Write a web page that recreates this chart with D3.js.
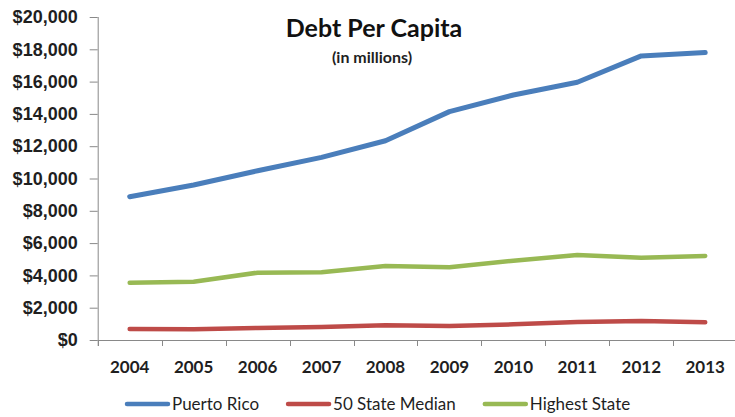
<!DOCTYPE html>
<html>
<head>
<meta charset="utf-8">
<script src="https://cdn.jsdelivr.net/npm/d3@7"></script>
<style>
  body { margin: 0; background: #fff; }
  svg { display: block; font-family: Lato, "Open Sans", sans-serif; }
</style>
</head>
<body>
<svg id="chart" width="735" height="417"></svg>
<script>
var years = ["2004", "2005", "2006", "2007", "2008", "2009", "2010", "2011", "2012", "2013"];
var puertoRico = [8875, 9600, 10480, 11310, 12340, 14140, 15170, 15960, 17590, 17800];
var stateMedian = [680, 660, 740, 800, 910, 870, 970, 1110, 1180, 1100];
var highestState = [3550, 3610, 4170, 4190, 4580, 4500, 4910, 5260, 5100, 5200];
var yTicks = [0, 2000, 4000, 6000, 8000, 10000, 12000, 14000, 16000, 18000, 20000];
var seriesNames = ["Puerto Rico", "50 State Median", "Highest State"];

var colors = ["#4a7ebb", "#be4b48", "#98b954"]
  , widths = [5, 4.5, 4.5]
  , plotLeft = 97.7
  , bandW = 63.95
  , plotTop = 17
  , plotBottom = 340;

var svg = d3.select("#chart");

var x = d3.scaleBand()
    .domain(years)
    .range([plotLeft, plotLeft + bandW * years.length])
    .padding(0);

var y = d3.scaleLinear()
    .domain([0, 20000])
    .range([plotBottom, plotTop]);

// y axis
var yAxis = svg.append("g")
    .attr("transform", "translate(" + plotLeft + ",0)")
    .call(d3.axisLeft(y)
      .tickValues(yTicks)
      .tickSize(8)
      .tickPadding(12)
      .tickFormat(function(d) { return "$" + d3.format(",")(d); }));

yAxis.select(".domain").attr("stroke", "#898989").attr("d", "M0.5," + plotTop + "V" + (plotBottom + 6));
yAxis.selectAll(".tick line").attr("stroke", "#898989");
yAxis.selectAll(".tick text")
    .attr("fill", "#1f1f1f")
    .style("font-size", "18px")
    .style("font-weight", "bold");

// x axis: line, boundary ticks, centred labels
var xg = svg.append("g");
xg.append("line")
    .attr("x1", plotLeft).attr("x2", 735)
    .attr("y1", plotBottom + 0.5).attr("y2", plotBottom + 0.5)
    .attr("stroke", "#898989");

xg.selectAll(".xtick")
    .data(years)
  .enter().append("line")
    .attr("class", "xtick")
    .attr("x1", function(d) { return Math.round(x(d)) + 0.5; })
    .attr("x2", function(d) { return Math.round(x(d)) + 0.5; })
    .attr("y1", plotBottom)
    .attr("y2", plotBottom + 6)
    .attr("stroke", "#898989");

xg.selectAll(".xlabel")
    .data(years)
  .enter().append("text")
    .attr("class", "xlabel")
    .attr("x", function(d) { return x(d) + x.bandwidth() / 2; })
    .attr("y", 373)
    .attr("text-anchor", "middle")
    .attr("fill", "#1f1f1f")
    .style("font-size", "17px")
    .style("font-weight", "bold")
    .text(function(d) { return d; });

// lines
var series = [puertoRico, stateMedian, highestState];

var line = d3.line()
    .x(function(d, i) { return x(years[i]) + x.bandwidth() / 2; })
    .y(function(d) { return y(d); });

svg.selectAll(".series")
    .data(series)
  .enter().append("path")
    .attr("class", "series")
    .attr("d", line)
    .attr("fill", "none")
    .attr("stroke", function(d, i) { return colors[i]; })
    .attr("stroke-width", function(d, i) { return widths[i]; })
    .attr("stroke-linecap", "round")
    .attr("stroke-linejoin", "round");

// title
svg.append("text")
    .attr("x", 374)
    .attr("y", 37)
    .attr("text-anchor", "middle")
    .attr("fill", "#111")
    .style("font-size", "25px")
    .style("font-weight", "bold")
    .text("Debt Per Capita");

svg.append("text")
    .attr("x", 372)
    .attr("y", 63)
    .attr("text-anchor", "middle")
    .attr("fill", "#1f1f1f")
    .style("font-size", "16px")
    .style("font-weight", "bold")
    .text("(in millions)");

// legend
var lx = 127;
seriesNames.forEach(function(name, i) {
  var g = svg.append("g");
  g.append("line")
      .attr("x1", lx).attr("x2", lx + 41)
      .attr("y1", 404).attr("y2", 404)
      .attr("stroke", colors[i])
      .attr("stroke-width", 4.5)
      .attr("stroke-linecap", "round");
  var t = g.append("text")
      .attr("x", lx + 45)
      .attr("y", 410)
      .attr("fill", "#1f1f1f")
      .style("font-size", "17px")
      .text(name);
  lx = lx + 45 + t.node().getComputedTextLength() + 29;
});
</script>
</body>
</html>
